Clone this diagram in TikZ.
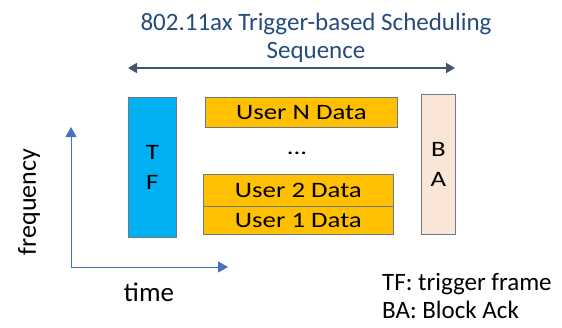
\documentclass[tikz,border=0pt]{standalone}
\usepackage{fontspec}
\setmainfont{Carlito}
\newfontfamily\widefont[FakeStretch=1.22]{Carlito}
\usetikzlibrary{arrows.meta}
\definecolor{titleblue}{RGB}{38,76,125}
\definecolor{arrowgray}{RGB}{68,84,106}
\definecolor{tfblue}{RGB}{0,176,240}
\definecolor{usergold}{RGB}{255,192,0}
\definecolor{bapeach}{RGB}{251,229,214}
\definecolor{edgegray}{RGB}{110,120,135}
\definecolor{axisblue}{RGB}{68,114,196}
\tikzset{
  blk/.style={draw=edgegray, line width=0.8pt, inner sep=0pt, font=\widefont\fontsize{22}{26}\selectfont},
  userbox/.style={blk, fill=usergold, anchor=north west},
  lbl/.style={inner sep=0pt},
  axis/.style={draw=axisblue, line width=1pt, -{Triangle[length=10pt,width=11pt]}},
}
\begin{document}
\begin{tikzpicture}[x=1pt,y=-1pt]
\useasboundingbox (0,0) rectangle (562,327);
% title
\node[lbl, text=titleblue, align=center, font=\fontsize{25}{28}\selectfont] (title) at (316,38) {802.11ax Trigger-based Scheduling\\Sequence};
\coordinate (sl) at (128,68);
\coordinate (sr) at (455,68);
\draw[arrowgray, line width=1.8pt, {Triangle[length=9pt,width=10pt]}-{Triangle[length=9pt,width=10pt]}] (sl) -- (sr);
% TF
\node[blk, fill=tfblue, minimum width=48pt, minimum height=140pt, align=center, anchor=north west] (tf) at (128,97) {T\\[4pt]F};
% users
\node[userbox, minimum width=192pt, minimum height=30pt] (un) at (205,97) {User N Data};
\node[lbl, font=\widefont\fontsize{22}{26}\selectfont] (dots) at (297,153) {...};
\node[userbox, minimum width=190pt, minimum height=32pt] (u2) at (203,174) {User 2 Data};
\node[userbox, minimum width=190pt, minimum height=28pt] (u1) at (203,206) {User 1 Data};
% BA
\node[blk, fill=bapeach, minimum width=34pt, minimum height=140pt, align=center, anchor=north west] (ba) at (421,94) {B\\[4pt]A};
% axes
\coordinate (o) at (71,267);
\coordinate (fy) at (71,127);
\coordinate (tx) at (228,267);
\draw[axis] (o) -- (fy);
\draw[axis] (o) -- (tx);
\node[lbl, font=\fontsize{26}{30}\selectfont, rotate=90] (freq) at (29,202) {frequency};
\node[lbl, font=\fontsize{27}{30}\selectfont] (time) at (149,292) {time};
% legend
\node[lbl, anchor=base west, font=\fontsize{25}{28}\selectfont] (l1) at (382,290) {TF: trigger frame};
\node[lbl, anchor=base west, font=\fontsize{25}{28}\selectfont] (l2) at (382,318) {BA: Block Ack};
\end{tikzpicture}
\end{document}
